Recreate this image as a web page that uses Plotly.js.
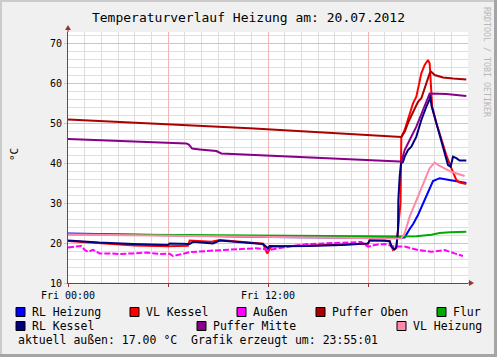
<!DOCTYPE html>
<html><head><meta charset="utf-8">
<script src="https://cdn.plot.ly/plotly-3.0.1.min.js"></script>
<style>html,body{margin:0;padding:0;background:#f0f0f0}#c{width:497px;height:357px}</style>
</head><body><div id="c"></div>
<script>
// ---- data (hours since Fri 00:00, °C) ----
const seriesNames = ["RL Heizung","VL Kessel","Außen","Puffer Oben","Flur","RL Kessel","Puffer Mitte","VL Heizung"];
const seriesColors = ["#0000ff","#ff0000","#ff00ff","#aa0000","#00aa00","#000080","#880088","#ff88aa"];

const rlHeizungT = [0,1.3,6,12,18,20.0,20.2,20.5,20.7,21.0,21.3,21.6,21.9,22.3,23.0,23.9];
const rlHeizungV = [22.4,22.3,21.9,21.5,21.3,21.3,21.4,23.5,24.7,27.0,29.8,33.0,35.5,36.2,35.6,35.0];

const vlKesselT = [0,2,4,6,7.2,7.3,8.6,9.1,10,11.7,11.95,12.2,14,16,18,18.1,19.3,19.5,19.7,19.95,20.0,20.2,20.4,20.7,20.9,21.2,21.4,21.6,21.7,21.75,21.85,22.1,22.4,22.7,23.0,23.3,23.5,23.9];
const vlKesselV = [20.5,19.9,19.4,19.2,19.3,20.6,20.3,20.75,20.4,19.8,17.4,19.1,19.3,19.5,19.8,20.7,20.5,18.25,18.7,30,46.5,48.25,50.75,54.9,56.6,62.4,64.5,65.75,64.9,60.75,54.1,50,45.75,42,38.7,35.75,35.1,34.75];

const aussenT = [0,0.5,0.8,1.0,1.2,1.5,1.9,2.5,3.1,3.9,4.7,5.5,6.1,6.3,7.3,8.7,10.1,11.3,12.1,12.7,13.6,14.4,15.4,16.4,17.6,18.0,18.4,19.0,19.6,20.2,21.0,21.8,22.6,23.2,23.7];
const aussenV = [18.9,19.1,19.25,18.25,17.8,18.3,17.4,17.4,17.25,17.4,17.6,17.25,17.3,16.75,17.7,18.1,18.4,18.7,18.25,18.75,19.3,19.75,19.9,20.1,20.25,19.1,19.5,19.75,19.1,19.1,18.25,17.8,18.25,17.4,16.75];

const pufferObenT = [0,10.9,20.0,20.2,20.45,20.7,21.0,21.2,21.5,21.7,21.8,22.0,22.5,23.1,23.9];
const pufferObenV = [50.9,48.7,46.5,47.8,50.5,52.5,55.3,56.2,60,62.4,62.8,62.0,61.4,61.1,60.9];

const flurT = [0,6,10,15,20,20.9,21.5,21.8,22.3,22.9,23.9];
const flurV = [22.2,22.0,21.75,21.65,21.6,21.7,21.9,22.05,22.5,22.7,22.8];

const rlKesselT = [0,1.86,3.9,6.0,6.1,7.3,7.5,8.7,9.1,10.1,11.7,12.0,12.1,12.7,14.4,16.4,17.4,18.0,18.1,19.0,19.3,19.4,19.6,19.7,19.8,19.82,19.9,19.98,20.1,20.2,20.4,20.6,20.9,21.2,21.5,21.68,21.72,21.82,22.1,22.4,22.7,22.8,22.96,23.1,23.3,23.5,23.9];
const rlKesselV = [20.6,20.1,19.75,19.5,19.9,19.75,20.3,19.9,20.6,20.25,19.75,18.7,19.25,19.2,19.25,19.5,19.7,19.9,20.6,20.6,20.4,19.1,18.4,19.0,23.25,30.75,36.6,39.9,40.3,41.6,43.25,44.1,46.6,50.75,54.1,55.75,57.0,54.1,50,45.75,41.2,39.5,39.1,41.6,41.2,40.6,40.6];

const pufferMitteT = [0,7.1,7.25,7.45,7.9,8.9,9.2,10.9,15,19.9,20.0,20.2,20.5,20.9,21.3,21.7,22.7,23.9];
const pufferMitteV = [46.0,44.9,44.6,43.6,43.4,43.0,42.4,42.1,41.3,40.4,40.3,43.25,45.75,49.1,53.25,57.4,57.25,56.75];

const vlHeizungT = [0,6,12,18,19.9,20.0,20.2,20.5,21.0,21.4,21.7,22.0,22.3,23.0,23.8];
const vlHeizungV = [22.1,21.75,21.4,21.1,21.1,21.2,22.4,26.6,31.6,35.75,38.7,40.1,39.25,37.8,36.75];

const xTickVals = [0,6,12,18];
const xTickText = ["Fri 00:00","","Fri 12:00",""];
const footerText = "aktuell außen: 17.00 °C\u00a0\u00a0Grafik erzeugt um: 23:55:01";
const titleText = "Temperaturverlauf Heizung am: 20.07.2012";
const watermark = "RRDTOOL / TOBI OETIKER";

// ---- layout helpers (pixel -> paper) ----
const M = {l:68, r:29, t:32, b:74};
const PW = 497 - M.l - M.r, PH = 357 - M.t - M.b;
const px = x => (x - M.l) / PW;
const py = y => (357 - M.b - y) / PH;
const FONT = "DejaVu Sans Mono";

const xs = [rlHeizungT,vlKesselT,aussenT,pufferObenT,flurT,rlKesselT,pufferMitteT,vlHeizungT];
const ys = [rlHeizungV,vlKesselV,aussenV,pufferObenV,flurV,rlKesselV,pufferMitteV,vlHeizungV];

const traces = seriesNames.map((n,i) => ({
  type:"scatter", mode:"lines", name:n, x:xs[i], y:ys[i],
  line:{color:seriesColors[i], width:2, dash: n==="Außen" ? "6px,2px" : "solid"},
  hoverinfo:"skip"
}));

const shapes = [];
const annotations = [];
const axisCol = "#993333";
// axis extensions + arrows
shapes.push({type:"line", xref:"paper", yref:"paper", x0:0, x1:0, y0:1, y1:py(28), line:{color:axisCol,width:1}});
shapes.push({type:"path", xref:"paper", yref:"paper", path:`M ${px(65)} ${py(30)} L ${px(71)} ${py(30)} L ${px(68)} ${py(25)} Z`, fillcolor:axisCol, line:{color:axisCol,width:0}});
shapes.push({type:"line", xref:"paper", yref:"paper", x0:1, x1:px(471), y0:0, y1:0, line:{color:axisCol,width:1}});
shapes.push({type:"path", xref:"paper", yref:"paper", path:`M ${px(469)} ${py(280)} L ${px(469)} ${py(286)} L ${px(474)} ${py(283)} Z`, fillcolor:axisCol, line:{color:axisCol,width:0}});
// outer frame
shapes.push({type:"rect", xref:"paper", yref:"paper", x0:px(0), x1:px(497), y0:py(0), y1:py(2), fillcolor:"#cbcbcb", line:{width:0}});
shapes.push({type:"rect", xref:"paper", yref:"paper", x0:px(0), x1:px(2), y0:py(0), y1:py(357), fillcolor:"#cbcbcb", line:{width:0}});
shapes.push({type:"rect", xref:"paper", yref:"paper", x0:px(494), x1:px(497), y0:py(0), y1:py(357), fillcolor:"#a5a5a5", line:{width:0}});
shapes.push({type:"rect", xref:"paper", yref:"paper", x0:px(0), x1:px(497), y0:py(354), y1:py(357), fillcolor:"#a5a5a5", line:{width:0}});

// legend (custom, RRDtool style)
const legendPos = [[16,312],[130,312],[237,312],[316,312],[437,312],[16,326],[197,326],[397,326]];
seriesNames.forEach((n,i) => {
  const [bx,by] = legendPos[i];
  shapes.push({type:"rect", xref:"paper", yref:"paper", x0:px(bx), x1:px(bx+9), y0:py(by-4.5), y1:py(by+4.5), fillcolor:seriesColors[i], line:{color:"#000",width:1}});
  annotations.push({xref:"paper", yref:"paper", x:px(bx+14), y:py(by), xanchor:"left", yanchor:"middle", text:n, showarrow:false, font:{family:FONT,size:11.5,color:"#000"}});
});
annotations.push({xref:"paper", yref:"paper", x:px(16), y:py(339.5), xanchor:"left", yanchor:"middle", text:footerText, showarrow:false, font:{family:FONT,size:11.5,color:"#000"}});
annotations.push({xref:"paper", yref:"paper", x:px(487), y:py(62), xanchor:"center", yanchor:"middle", text:watermark, textangle:90, showarrow:false, font:{family:FONT,size:8.3,color:"#b8b8b8"}});
annotations.push({xref:"paper", yref:"paper", x:px(14), y:py(155), xanchor:"center", yanchor:"middle", text:"°C", textangle:-90, showarrow:false, font:{family:FONT,size:11,color:"#000"}});

const layout = {
  width:497, height:357, margin:M,
  paper_bgcolor:"#f0f0f0", plot_bgcolor:"#ffffff",
  showlegend:false,
  title:{text:titleText, x:0.5, xref:"container", y:1-17/357, yref:"container", yanchor:"middle", font:{family:FONT,size:13,color:"#000"}},
  xaxis:{range:[0,24], tickmode:"array", tickvals:xTickVals, ticktext:xTickText,
    showgrid:true, gridcolor:"#f2b5b5", gridwidth:1, zeroline:false,
    showline:true, linecolor:axisCol, linewidth:1, ticks:"outside", ticklen:3, tickcolor:axisCol,
    tickfont:{family:FONT,size:10,color:"#000"},
    minor:{dtick:1, tick0:0, showgrid:true, gridcolor:"#dedede", gridwidth:1, ticks:""}},
  yaxis:{range:[10,72.75], tickmode:"linear", tick0:0, dtick:10,
    showgrid:true, gridcolor:"#f2b5b5", gridwidth:1, zeroline:false,
    showline:true, linecolor:axisCol, linewidth:1, ticks:"outside", ticklen:3, tickcolor:"#f2b5b5",
    tickfont:{family:FONT,size:10,color:"#000"},
    title:{text:""},
    minor:{dtick:2, tick0:0, showgrid:true, gridcolor:"#dedede", gridwidth:1, ticks:""}},
  shapes, annotations
};
Plotly.newPlot("c", traces, layout, {staticPlot:true, displayModeBar:false});
</script></body></html>
